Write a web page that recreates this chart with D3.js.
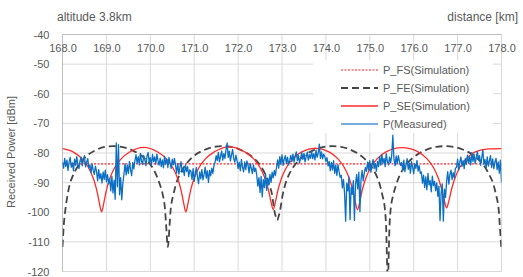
<!DOCTYPE html>
<html><head><meta charset="utf-8">
<script src="https://cdn.jsdelivr.net/npm/d3@7"></script>
<style>body{margin:0;background:#fff}svg{display:block}</style>
</head><body><svg id="c" width="523" height="277"></svg>
<script>
const xTicks = [168,169,170,171,172,173,174,175,176,177,178];
const yTicks = [-40,-50,-60,-70,-80,-90,-100,-110,-120];
const seriesNames = ["P_FS(Simulation)","P_FE(Simulation)","P_SE(Simulation)","P(Measured)"];

const fsDistance = [168.0, 178.0];
const fsPower = [-83.7, -83.7];

const feDistance = [168.00,168.03,168.06,168.12,168.17,168.23,168.35,168.52,168.75,168.98,169.15,
 169.34,169.59,169.84,170.03,170.15,170.21,170.28,170.34,170.36,170.40,
 170.44,170.46,170.53,170.59,170.65,170.78,170.96,171.21,171.46,171.65,
 171.84,172.08,172.33,172.52,172.64,172.70,172.77,172.83,172.85,172.89,
 172.93,172.95,173.02,173.08,173.14,173.27,173.46,173.71,173.96,174.15,
 174.34,174.59,174.84,175.03,175.16,175.22,175.28,175.35,175.37,175.41,
 175.45,175.47,175.54,175.61,175.67,175.80,176.00,176.26,176.52,176.71,
 176.90,177.16,177.42,177.61,177.74,177.81,177.87,177.94,177.96,178.00];
const fePower = [-111.7,-104.2,-99.8,-93.8,-90.3,-87.9,-84.5,-81.4,-79.1,-77.9,-77.7,
 -77.9,-79.1,-81.4,-84.5,-87.9,-90.3,-93.8,-99.8,-104.2,-111.7,
 -104.2,-99.8,-93.8,-90.3,-87.9,-84.5,-81.4,-79.1,-77.9,-77.7,
 -77.9,-79.1,-81.4,-84.5,-87.9,-90.3,-93.8,-99.8,-101.0,-102.7,
 -101.0,-99.8,-93.8,-90.3,-87.9,-84.5,-81.4,-79.1,-77.9,-77.7,
 -77.9,-79.1,-81.4,-84.5,-87.9,-90.3,-93.8,-99.8,-104.2,-123.0,
 -104.2,-99.8,-93.8,-90.3,-87.9,-84.5,-81.4,-79.1,-77.9,-77.7,
 -77.9,-79.1,-81.4,-84.5,-87.9,-90.3,-93.8,-99.8,-104.2,-113.0];

const seDistance = [168.00,168.24,168.44,168.59,168.69,168.74,168.79,168.84,168.89,168.94,168.99,169.04,169.09,169.19,169.34,169.54,169.85,
 170.16,170.36,170.51,170.61,170.66,170.71,170.76,170.81,170.86,170.91,170.96,171.01,171.11,171.26,171.46,171.80,
 172.15,172.35,172.50,172.60,172.65,172.70,172.75,172.80,172.85,172.90,172.95,173.00,173.10,173.25,173.45,173.76,
 174.07,174.27,174.42,174.52,174.57,174.62,174.67,174.72,174.77,174.82,174.87,174.92,175.02,175.17,175.37,175.73,
 176.10,176.30,176.45,176.55,176.60,176.65,176.70,176.75,176.80,176.85,176.90,176.95,177.05,177.20,177.40,177.70,178.00];
const sePower = [-78.5,-79.6,-81.9,-84.9,-88.1,-90.3,-93.2,-96.9,-99.9,-96.9,-93.2,-90.3,-88.1,-84.9,-81.9,-79.6,-78.1,
 -79.6,-81.9,-84.9,-88.1,-90.3,-93.2,-96.9,-99.9,-96.9,-93.2,-90.3,-88.1,-84.9,-81.9,-79.6,-77.9,
 -79.6,-81.9,-84.9,-88.1,-90.3,-93.0,-96.5,-99.0,-96.5,-93.0,-90.3,-88.1,-84.9,-81.9,-79.6,-78.4,
 -79.6,-81.9,-84.9,-88.1,-90.3,-93.0,-96.6,-99.2,-96.6,-93.0,-90.3,-88.1,-84.9,-81.9,-79.6,-78.2,
 -79.6,-81.9,-84.9,-88.1,-90.3,-93.0,-96.2,-98.5,-96.2,-93.0,-90.3,-88.1,-84.9,-81.9,-79.6,-78.6,-78.5];

const measuredStart = 168.0, measuredStep = 0.025;
const measuredPower = [
 -83.2,-85.1,-81.8,-84.6,-82.4,-85.9,-83.0,-81.5,-84.8,-83.3,-86.0,-82.1,-84.2,-81.2,-83.9,-85.3,-82.6,
 -81.4,-84.3,-82.2,-80.9,-84.7,-83.1,-81.9,-85.0,
 -84.0,-86.6,-83.7,-85.9,-87.2,-84.4,
 -86.2,-89.4,-85.6,-88.7,-87.0,-90.1,-86.4,-88.9,-85.8,-89.7,-87.3,-90.4,
 -88.6,-92.8,-87.9,-93.5,-89.2,-95.6,-76.6,-91.4,-77.2,-94.1,-88.3,-95.8,-90.2,-87.1,
 -83.6,-87.4,-84.1,-86.9,-82.8,-85.7,-87.6,-83.2,-85.4,-82.6,
 -80.6,-83.4,-81.2,-84.0,-80.1,-82.7,-83.9,-80.8,-82.2,-84.3,-81.0,-79.8,-83.1,-81.6,-84.2,-80.5,-82.9,-81.3,-83.8,-80.4,-82.5,-84.1,
 -81.7,-84.6,-82.3,-85.0,-81.1,-83.8,-82.0,-84.9,-81.5,-83.3,-85.2,-82.1,-84.0,-81.8,
 -84.2,-86.8,-83.5,-87.1,-84.8,-82.9,-86.5,-85.3,-87.6,-83.9,-86.2,-84.6,-88.0,-85.7,
 -86.1,-88.9,-85.3,-89.6,-86.8,-84.9,-88.2,-90.3,-86.4,-88.7,-85.6,-89.1,-87.3,-84.8,-88.5,-86.0,-89.9,-85.9,-87.7,-85.1,-86.9,-84.3,
 -83.2,-80.9,-82.6,-79.8,-83.0,-81.1,-79.3,-82.4,-80.2,-81.8,-78.9,-76.6,-81.5,-79.4,-82.7,-80.6,-78.8,-81.9,-83.1,-80.7,
 -82.5,-85.3,-83.1,-86.0,-82.2,-84.8,-86.4,-83.0,-85.6,-82.7,-84.1,-86.7,-83.5,-85.2,-87.0,-84.0,-86.3,-85.1,
 -87.6,-91.2,-88.3,-93.4,-87.9,-94.8,-89.0,-91.7,-86.9,-92.6,-88.5,-90.8,-87.2,-89.9,-86.5,-88.4,-85.9,-87.6,
 -84.9,-82.3,-85.1,-81.2,-83.8,-80.6,-84.2,-82.0,-80.9,-83.6,-81.4,-84.0,-82.5,-80.8,
 -82.9,-80.4,-83.1,-81.0,-79.6,-82.6,-80.8,-83.4,-81.7,-79.9,-82.2,-80.1,-83.0,-81.3,-79.7,-82.4,-80.6,-81.8,
 -79.4,-81.9,-80.2,-82.3,-79.0,-81.5,-80.1,-77.0,-81.8,-79.6,-82.0,-80.4,-81.2,-82.8,
 -81.6,-84.4,-82.8,-86.0,-83.2,-85.7,-82.6,-86.9,-84.1,-87.6,-83.9,-86.3,-88.2,
 -87.5,-91.8,-88.9,-93.6,-103.0,-90.2,-92.8,-88.1,-102.5,-91.5,-94.0,-89.3,-102.8,
 -90.6,-87.2,-92.1,-86.5,-99.8,-88.9,-85.9,-89.4,-86.8,-84.9,
 -86.2,-83.1,-85.8,-82.6,-86.5,-84.0,-82.2,-85.3,-83.5,-86.1,-82.8,-84.6,
 -81.2,-84.1,-80.6,-83.5,-81.8,-84.6,-80.2,-82.9,-84.0,-81.4,-83.3,-80.7,-74.0,-82.1,-84.3,-81.0,-83.7,-80.9,-82.8,-84.2,
 -83.2,-85.9,-82.4,-86.3,-84.0,-81.9,-85.5,-83.4,-86.8,-82.9,-84.7,-87.0,-83.6,-85.2,-82.5,-86.1,-84.3,-86.9,
 -86.4,-90.2,-87.5,-91.6,-88.1,-92.4,-86.9,-90.8,-89.3,-93.1,-87.8,-91.0,-89.6,-92.7,
 -90.1,-94.6,-91.2,-102.8,-93.5,-90.4,-103.0,-92.2,-95.0,
 -89.6,-86.3,-90.5,-87.2,-85.8,-89.0,-86.6,-88.4,-85.2,
 -84.8,-82.1,-85.6,-83.0,-81.4,-84.5,-82.6,-85.3,-81.9,-83.8,
 -80.7,-83.4,-81.2,-84.0,-79.9,-82.8,-80.4,-83.6,-81.5,-79.6,-82.3,-80.9,
 -84.1,-81.6,-79.0,-83.8,-82.2,-85.0,-81.3,-84.4,-82.7,-80.9,-84.9,-82.0,-85.3,-83.1,
 -81.8,-85.6,-83.0,-86.8,-82.4,-90.0];

const svg = d3.select("#c");
const L = 62.5, R = 501.5, T = 34.5, B = 271.5;
const x = d3.scaleLinear().domain([168,178]).range([L,R]);
const y = d3.scaleLinear().domain([-120,-40]).range([B,T]);
const txt = "#595959", font = "'Liberation Sans', Arial, sans-serif";

svg.append("defs").append("clipPath").attr("id","clip")
  .append("rect").attr("x",L).attr("y",T).attr("width",R-L).attr("height",B-T);

// grid
const g = svg.append("g");
g.selectAll(".hg").data(yTicks).join("line")
  .attr("x1",L).attr("x2",R).attr("y1",d=>y(d)).attr("y2",d=>y(d))
  .attr("stroke","#d9d9d9").attr("stroke-width",1);
g.selectAll(".vg").data(xTicks).join("line")
  .attr("x1",d=>x(d)).attr("x2",d=>x(d)).attr("y1",T).attr("y2",B)
  .attr("stroke","#d9d9d9").attr("stroke-width",1);
g.append("line").attr("x1",L).attr("x2",L).attr("y1",T).attr("y2",B).attr("stroke","#bfbfbf");
g.append("line").attr("x1",L).attr("x2",R).attr("y1",T).attr("y2",T).attr("stroke","#bfbfbf");

// axes
const ax = svg.append("g").attr("transform",`translate(0,${T})`)
  .call(d3.axisBottom(x).tickValues(xTicks).tickSize(0).tickPadding(10).tickFormat(d3.format(".1f")));
const ay = svg.append("g").attr("transform",`translate(${L},0)`)
  .call(d3.axisLeft(y).tickValues(yTicks).tickSize(0).tickPadding(13).tickFormat(d=>String(d)));
[ax,ay].forEach(a=>{
  a.select(".domain").remove();
  a.selectAll("text").attr("fill",txt).style("font-family",font).style("font-size","11px");
});

// series
const data = svg.append("g").attr("clip-path","url(#clip)");
const lineXY = (xs,ys,curve)=>d3.line().x((d,i)=>x(xs[i])).y(d=>y(d)).curve(curve||d3.curveLinear)(ys);
data.append("path").attr("d",lineXY(fsDistance,fsPower))
  .attr("fill","none").attr("stroke","#ff2020").attr("stroke-width",1.2).attr("stroke-dasharray","2,1.5");
data.append("path").attr("d",lineXY(feDistance,fePower,d3.curveMonotoneX))
  .attr("fill","none").attr("stroke","#454545").attr("stroke-width",1.8).attr("stroke-dasharray","7,4");
data.append("path").attr("d",lineXY(seDistance,sePower,d3.curveMonotoneX))
  .attr("fill","none").attr("stroke","#ff2a2a").attr("stroke-width",1.3);
const measuredDistance = measuredPower.map((v,i)=>measuredStart+i*measuredStep);
data.append("path").attr("d",lineXY(measuredDistance,measuredPower))
  .attr("fill","none").attr("stroke","#0b6fc4").attr("stroke-width",1.3).attr("stroke-linejoin","round");

// titles
svg.append("text").attr("x",57).attr("y",21).text("altitude 3.8km")
  .attr("fill",txt).style("font-family",font).style("font-size","12px");
svg.append("text").attr("x",518).attr("y",21).attr("text-anchor","end").text("distance [km]")
  .attr("fill",txt).style("font-family",font).style("font-size","12px");
svg.append("text").attr("transform","translate(15,152) rotate(-90)").attr("text-anchor","middle")
  .text("Received Power [dBm]").attr("fill",txt).style("font-family",font).style("font-size","11px");

// legend
const lg = svg.append("g");
lg.append("rect").attr("x",313).attr("y",60).attr("width",180).attr("height",73).attr("fill","#fff");
const styles = [
  {c:"#ff2020",w:1.2,d:"2,1.5"},
  {c:"#454545",w:1.8,d:"7,4"},
  {c:"#ff2a2a",w:1.3,d:null},
  {c:"#4a90d0",w:1.5,d:null}];
seriesNames.forEach((n,i)=>{
  const yy = 70 + i*18;
  lg.append("line").attr("x1",341).attr("x2",378).attr("y1",yy).attr("y2",yy)
    .attr("stroke",styles[i].c).attr("stroke-width",styles[i].w).attr("stroke-dasharray",styles[i].d);
  lg.append("text").attr("x",383).attr("y",yy).attr("dy","0.35em").text(n)
    .attr("fill",txt).style("font-family",font).style("font-size","11px");
});
</script></body></html>
